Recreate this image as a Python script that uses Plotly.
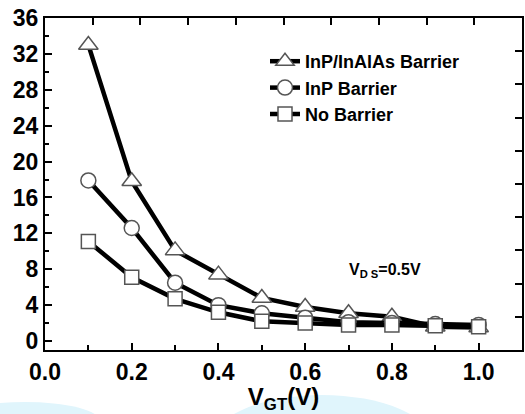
import plotly.graph_objects as go

vgt = [0.1, 0.2, 0.3, 0.4, 0.5, 0.6, 0.7, 0.8, 0.9, 1.0]
inp_inalas = [33.0, 17.8, 10.1, 7.4, 4.8, 3.8, 3.1, 2.7, 1.6, 1.5]
inp_only = [17.9, 12.6, 6.5, 4.0, 3.1, 2.6, 2.1, 2.0, 1.9, 1.8]
no_barrier = [11.1, 7.1, 4.7, 3.2, 2.2, 2.0, 1.8, 1.8, 1.7, 1.6]
names = ["InP/InAlAs Barrier", "InP Barrier", "No Barrier"]
symbols = ["triangle-up", "circle", "square"]
sizes = [17, 15, 14]
series = [inp_inalas, inp_only, no_barrier]

FONT = "Liberation Sans, Arial, sans-serif"

fig = go.Figure()
for nm, sym, sz, ys in zip(names, symbols, sizes, series):
    fig.add_trace(go.Scatter(
        x=vgt, y=ys, name="<b>" + nm + "</b>", mode="lines+markers",
        line=dict(color="black", width=4.5),
        marker=dict(symbol=sym, size=sz, color="white",
                    line=dict(color="#555555", width=1.5)),
    ))

# invisible trace to activate mirror axes
fig.add_trace(go.Scatter(x=[None], y=[None], xaxis="x2", yaxis="y2",
                         showlegend=False, hoverinfo="skip"))

W, H = 525, 414
L, R, T, B = 45, 3, 18, 64
pw, ph = W - L - R, H - T - B


def px(xp):
    return (xp - L) / pw


def py(yp):
    return (H - B - yp) / ph


fig.update_layout(
    width=W, height=H,
    margin=dict(l=L, r=R, t=T, b=B),
    paper_bgcolor="white", plot_bgcolor="white",
    font=dict(family=FONT, color="black", size=20, weight="bold"),
    showlegend=True,
    legend=dict(x=px(265), y=py(43), xanchor="left", yanchor="top",
                bgcolor="rgba(0,0,0,0)",
                font=dict(size=18, weight="bold", color="black"),
                tracegroupgap=0, itemsizing="trace"),
    xaxis=dict(range=[0, 1.1], tick0=0, dtick=0.2, tickformat=".1f",
               ticks="inside", ticklen=7, tickwidth=2, tickcolor="black",
               showline=True, linecolor="black", linewidth=2,
               showgrid=False, zeroline=False,
               minor=dict(ticks="inside", ticklen=5, tickwidth=2,
                          tickcolor="black", dtick=0.1, tick0=0.1),
               tickfont=dict(size=23, weight="bold", color="black"),
               title=dict(text="<b>V<sub>GT</sub>(V)</b>",
                          font=dict(size=24, weight="bold", color="black"),
                          standoff=8)),
    yaxis=dict(range=[-1, 36], tick0=0, dtick=4,
               ticks="inside", ticklen=7, tickwidth=2, tickcolor="black",
               showline=True, linecolor="black", linewidth=2,
               showgrid=False, zeroline=False,
               minor=dict(ticks="inside", ticklen=4, tickwidth=2,
                          tickcolor="black", dtick=2),
               tickfont=dict(size=23, weight="bold", color="black"),
               ticklabelstandoff=0),
    xaxis2=dict(overlaying="x", side="top", range=[0, 1.1], tick0=0,
                dtick=0.11, ticks="inside", ticklen=7, tickwidth=2,
                tickcolor="black", showticklabels=False, showline=True,
                linecolor="black", linewidth=2, showgrid=False,
                zeroline=False),
    yaxis2=dict(overlaying="y", side="right", range=[-1, 36], tick0=-1,
                dtick=3.7, ticks="inside", ticklen=7, tickwidth=2,
                tickcolor="black", showticklabels=False, showline=True,
                linecolor="black", linewidth=2, showgrid=False,
                zeroline=False),
)

fig.add_annotation(x=0.785, y=7.9, xref="x", yref="y",
                   text="<b>V<sub>D S</sub>=0.5V</b>", showarrow=False,
                   font=dict(size=16, weight="bold", family=FONT,
                             color="black"))

# faint light-blue watermark blobs at the bottom of the scan
fig.add_shape(type="circle", xref="paper", yref="paper", layer="below",
              x0=px(-50), x1=px(100), y0=py(402), y1=py(440),
              fillcolor="#e0f5fc", line=dict(width=0))
fig.add_shape(type="circle", xref="paper", yref="paper", layer="below",
              x0=px(212), x1=px(432), y0=py(395), y1=py(490),
              fillcolor="#e0f5fc", line=dict(width=0))

fig.write_html("out.html")
